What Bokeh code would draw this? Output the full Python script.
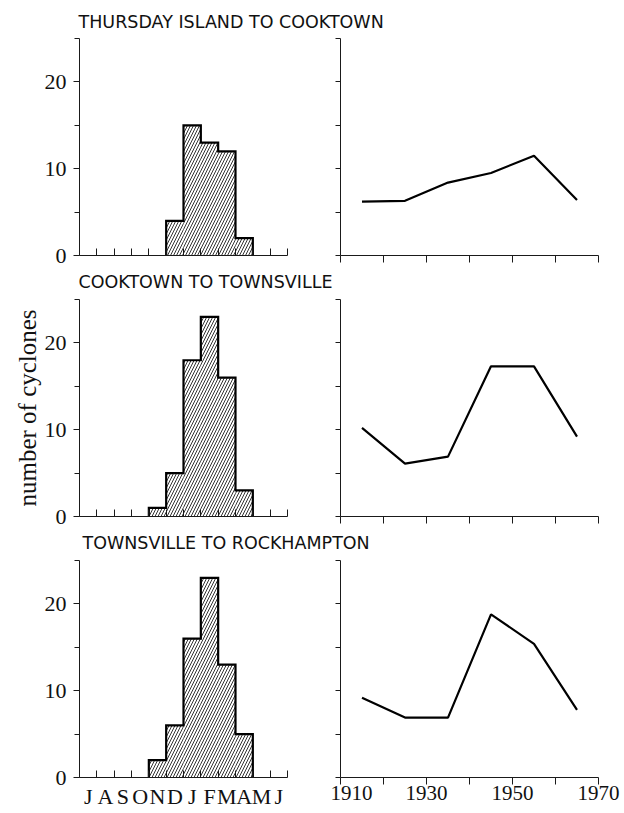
from bokeh.plotting import figure
from bokeh.layouts import column, row
from bokeh.models import Range1d, FixedTicker, LinearAxis, Spacer
from bokeh.embed import file_html
from bokeh.resources import INLINE

# ---------------- data ----------------
months = ["J", "A", "S", "O", "N", "D", "J", "F", "M", "A", "M", "J"]
regions = ["THURSDAY ISLAND TO COOKTOWN",
           "COOKTOWN TO TOWNSVILLE",
           "TOWNSVILLE TO ROCKHAMPTON"]

thursday_monthly = [0, 0, 0, 0, 0, 4, 15, 13, 12, 2, 0, 0]
cooktown_monthly = [0, 0, 0, 0, 1, 5, 18, 23, 16, 3, 0, 0]
townsville_monthly = [0, 0, 0, 0, 2, 6, 16, 23, 13, 5, 0, 0]

decade_mid = [1915, 1925, 1935, 1945, 1955, 1965]
thursday_decadal = [6.2, 6.3, 8.4, 9.5, 11.5, 6.4]
cooktown_decadal = [10.2, 6.1, 6.9, 17.3, 17.3, 9.2]
townsville_decadal = [9.2, 6.9, 6.9, 18.8, 15.4, 7.8]

year_ticks = [1910, 1930, 1950, 1970]
year_minor = [1920, 1940, 1960]
count_ticks = [0, 10, 20]
count_minor = [5, 15, 25]
count_max = 25
year_range = (1910, 1970)

# ---------------- style ----------------
SERIF = "Liberation Serif"
SANS = "DejaVu Sans"
INK = "#1a1a1a"
FRAME_H = 217
MID_B = 14
LAST_B = 32
LEFT_B = 79


def style_axis(ax):
    ax.axis_line_color = INK
    ax.axis_line_width = 1
    ax.major_tick_line_color = INK
    ax.minor_tick_line_color = INK
    ax.major_label_text_font = SERIF
    ax.major_label_text_color = "#111111"


def month_panel(vals, show_labels, ylabel, top, bottom):
    n = len(months)
    p = figure(frame_width=208, frame_height=FRAME_H,
               x_range=Range1d(-0.5, n - 0.5), y_range=Range1d(0, count_max),
               output_backend="svg", toolbar_location=None,
               min_border_left=LEFT_B, min_border_right=43,
               min_border_top=top, min_border_bottom=bottom,
               x_axis_location=None, y_axis_location=None)
    p.outline_line_color = None
    p.background_fill_color = "white"
    p.border_fill_color = "white"
    p.grid.visible = False

    xa = LinearAxis(ticker=FixedTicker(ticks=list(range(n)),
                                       minor_ticks=[i - 0.5 for i in range(n + 1)]))
    style_axis(xa)
    xa.major_tick_in = 0
    xa.major_tick_out = 0
    xa.minor_tick_in = 7
    xa.minor_tick_out = 0
    if show_labels:
        xa.major_label_overrides = {i: m for i, m in enumerate(months)}
        xa.major_label_text_font_size = "22px"
        xa.major_label_standoff = 6
    else:
        xa.major_label_overrides = {i: "" for i in range(n)}
        xa.major_label_text_font_size = "0px"
        xa.major_label_standoff = 0
    p.add_layout(xa, "below")

    ya = LinearAxis(ticker=FixedTicker(ticks=count_ticks, minor_ticks=count_minor))
    style_axis(ya)
    ya.major_tick_in = 0
    ya.major_tick_out = 6
    ya.minor_tick_in = 0
    ya.minor_tick_out = 5
    ya.major_label_text_font_size = "22px"
    ya.major_label_standoff = 7
    if ylabel:
        ya.axis_label = ylabel
        ya.axis_label_text_font = SERIF
        ya.axis_label_text_font_size = "25px"
        ya.axis_label_text_font_style = "normal"
        ya.axis_label_text_color = "#111111"
        ya.axis_label_standoff = 1
    p.add_layout(ya, "left")

    left = [i - 0.5 for i in range(n)]
    right = [i + 0.5 for i in range(n)]
    p.quad(left=left, right=right, bottom=0, top=vals,
           fill_alpha=0, line_color=None,
           hatch_pattern="/", hatch_color="#333333",
           hatch_scale=6, hatch_weight=1.0)

    nz = [i for i, v in enumerate(vals) if v > 0]
    a, b = nz[0], nz[-1]
    xs = [a - 0.5]
    ys = [0]
    for i in range(a, b + 1):
        xs += [i - 0.5, i + 0.5]
        ys += [vals[i], vals[i]]
    xs.append(b + 0.5)
    ys.append(0)
    p.line(xs, ys, line_color="black", line_width=2.2, line_join="miter")
    return p


def decade_panel(vals, show_labels, top, bottom):
    p = figure(frame_width=258, frame_height=FRAME_H,
               x_range=Range1d(*year_range), y_range=Range1d(0, count_max),
               output_backend="svg", toolbar_location=None,
               min_border_left=10, min_border_right=22,
               min_border_top=top, min_border_bottom=bottom,
               x_axis_location=None, y_axis_location=None)
    p.outline_line_color = None
    p.background_fill_color = "white"
    p.border_fill_color = "white"
    p.grid.visible = False

    xa = LinearAxis(ticker=FixedTicker(ticks=year_ticks, minor_ticks=year_minor))
    style_axis(xa)
    xa.major_tick_in = 0
    xa.major_tick_out = 7
    xa.minor_tick_in = 0
    xa.minor_tick_out = 7
    if show_labels:
        xa.major_label_text_font_size = "21px"
        xa.major_label_standoff = 1
    else:
        xa.major_label_overrides = {t: "" for t in year_ticks}
        xa.major_label_text_font_size = "0px"
        xa.major_label_standoff = 0
    p.add_layout(xa, "below")

    ya = LinearAxis(ticker=FixedTicker(ticks=sorted(count_ticks + count_minor)))
    style_axis(ya)
    ya.major_tick_in = 0
    ya.major_tick_out = 5
    ya.major_label_overrides = {t: "" for t in sorted(count_ticks + count_minor)}
    ya.major_label_text_font_size = "0px"
    ya.major_label_standoff = 0
    p.add_layout(ya, "left")

    p.line(decade_mid, vals, line_color="black", line_width=2.2)
    return p


def title_fig(text, offset):
    t = figure(width=618, height=24, output_backend="svg", toolbar_location=None,
               min_border_left=LEFT_B, min_border_right=0, min_border_top=2,
               min_border_bottom=0, x_axis_location=None, y_axis_location=None,
               title=text)
    t.title.text_font = SANS
    t.title.text_font_size = "17.5px"
    t.title.text_font_style = "normal"
    t.title.text_color = "#111111"
    t.title.offset = offset
    t.title.standoff = 0
    t.outline_line_color = None
    t.background_fill_color = "white"
    t.border_fill_color = "white"
    t.grid.visible = False
    return t


monthly = [thursday_monthly, cooktown_monthly, townsville_monthly]
decadal = [thursday_decadal, cooktown_decadal, townsville_decadal]
offsets = [-1, -1, 3]
tops = [5, 6, 6]

items = [Spacer(width=10, height=9)]
for k in range(3):
    last = (k == 2)
    bottom = LAST_B if last else MID_B
    items.append(title_fig(regions[k], offsets[k]))
    lp = month_panel(monthly[k], last, "number of cyclones" if k == 1 else None, tops[k], bottom)
    rp = decade_panel(decadal[k], last, tops[k], bottom)
    items.append(row(lp, rp))

layout = column(*items)

open("out.html", "w").write(file_html(layout, INLINE))
